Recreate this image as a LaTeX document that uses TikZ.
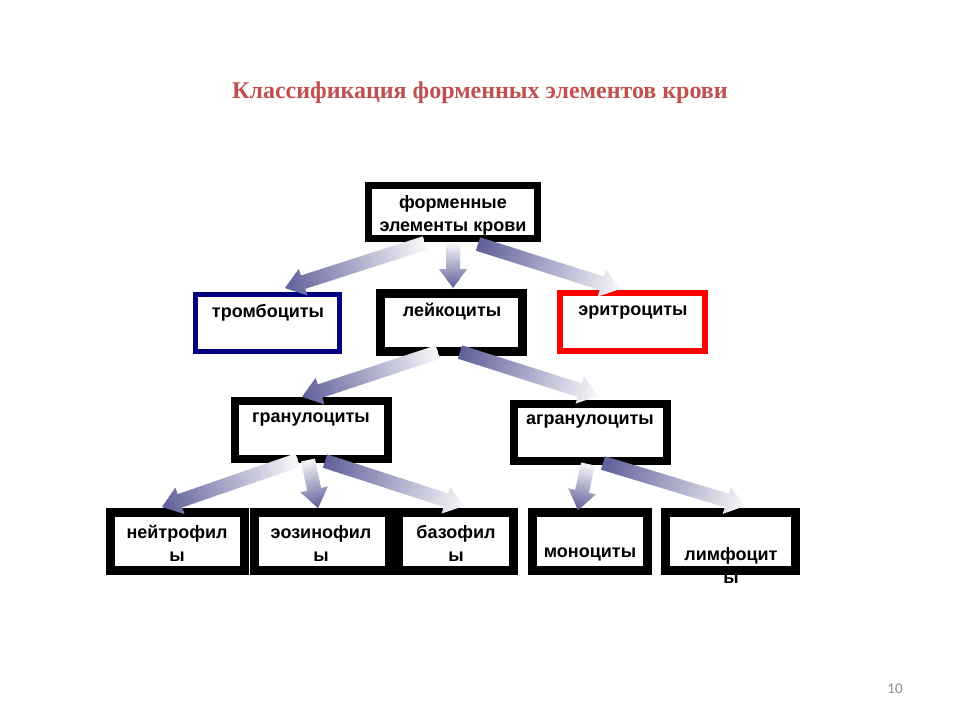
\documentclass[tikz,border=0pt]{standalone}
\usepackage{fontspec}
\setmainfont{Liberation Serif}
\setsansfont{Liberation Sans}
\newfontfamily\pnfont{Carlito}
\usetikzlibrary{calc}
\definecolor{titlered}{HTML}{C0504D}
\definecolor{adark}{HTML}{60619A}
\definecolor{alight}{HTML}{F6F6F9}
\definecolor{navyb}{HTML}{000080}
\definecolor{redb}{HTML}{FF0000}
\definecolor{pngray}{HTML}{8C8C8C}

\newcommand\Bx[7]{%
 \node[draw=#7, line width=#6pt, inner sep=0pt,
   minimum width={(#4-#2-#6)*1pt}, minimum height={(#5-#3-#6)*1pt}]
   (#1) at ({(#2+#4)/2},{(#3+#5)/2}) {};}

\newcommand\Garrow[4]{%
 \path let \p1=($(#2)-(#1)$) in
   \pgfextra{\pgfmathsetmacro\glen{veclen(\x1,\y1)}\pgfmathsetmacro\gang{atan2(\y1,\x1)}%
   \xdef\Glen{\glen}\xdef\Gang{\gang}};
 \begin{scope}[shift={(#1)}, rotate=\Gang]
  \clip (0,7) -- ({\Glen-19},7) -- ({\Glen-19},14) -- (\Glen,0)
   -- ({\Glen-19},-14) -- ({\Glen-19},-7) -- (0,-7) -- cycle;
  \foreach \i in {0,...,39}{%
    \pgfmathtruncatemacro\pc{100*\i/39}%
    \fill[#4!\pc!#3] ({\Glen*\i/40},-16) rectangle ({\Glen*(\i+1)/40+0.6},16);}
 \end{scope}}

\tikzset{
 txt/.style={font=\fontsize{18}{23}\selectfont\sffamily\bfseries, align=center, inner sep=0pt},
}

\begin{document}
\begin{tikzpicture}[x=1pt,y=-1pt]
\useasboundingbox[fill=white] (0,0) rectangle (960,720);

\node[font=\fontsize{24}{28}\selectfont\bfseries, text=titlered, inner sep=0pt] (title) at (480,93) {Классификация форменных элементов крови};
\node[font=\fontsize{15}{18}\selectfont\pnfont, text=pngray, inner sep=0pt] (pn) at (895,689) {10};

% texts
\node[txt] (t0) at (453,215) {форменные\\элементы крови};
\node[txt] (t1) at (268,313) {тромбоциты};
\node[txt] (t2) at (452,312) {лейкоциты};
\node[txt] (t3) at (633,313) {эритроциты};
\node[txt] (t4) at (311,420) {гранулоциты};
\node[txt] (t5) at (590,422) {агранулоциты};
\node[txt] (t6) at (177,543) {нейтрофил\\ы};
\node[txt] (t7) at (321,543) {эозинофил\\ы};
\node[txt] (t8) at (456,543) {базофил\\ы};
\node[txt] (t9) at (590,554) {моноциты};
\node[txt] (t10) at (731,565) {лимфоцит\\ы};

% boxes
\Bx{b0}{365}{182}{541}{242}{7}{black}
\Bx{b1}{193}{292}{342}{354}{5}{navyb}
\Bx{b2}{376}{289}{527}{356}{9}{black}
\Bx{b3}{557}{290}{708}{354}{6}{redb}
\Bx{b4}{231}{397}{392}{463}{8}{black}
\Bx{b5}{510}{400}{671}{465}{8}{black}
\Bx{b6}{106}{508}{249}{575}{9}{black}
\Bx{b7}{250}{508}{394}{575}{9}{black}
\Bx{b8}{394}{508}{518}{575}{9}{black}
\Bx{b9}{528}{508}{652}{575}{9}{black}
\Bx{b10}{661}{508}{800}{575}{9}{black}

% arrow ends
\coordinate (a1t) at (425,243); \coordinate (a1h) at (285,288);
\coordinate (a2t) at (453,243); \coordinate (a2h) at (453,288);
\coordinate (a3t) at (478,244); \coordinate (a3h) at (620,289);
\coordinate (a4t) at (438,352); \coordinate (a4h) at (302,397);
\coordinate (a5t) at (460,352); \coordinate (a5h) at (598,396);
\coordinate (a6t) at (298,460); \coordinate (a6h) at (162,507);
\coordinate (a7t) at (308,460); \coordinate (a7h) at (318,508);
\coordinate (a8t) at (325,461); \coordinate (a8h) at (464,506);
\coordinate (a9t) at (588,464); \coordinate (a9h) at (578,510);
\coordinate (a10t) at (603,463); \coordinate (a10h) at (745,506);

\Garrow{a1t}{a1h}{alight}{adark}
\Garrow{a2t}{a2h}{alight}{adark}
\Garrow{a3t}{a3h}{adark}{alight}
\Garrow{a4t}{a4h}{alight}{adark}
\Garrow{a5t}{a5h}{adark}{alight}
\Garrow{a6t}{a6h}{alight}{adark}
\Garrow{a7t}{a7h}{alight}{adark}
\Garrow{a8t}{a8h}{adark}{alight}
\Garrow{a9t}{a9h}{alight}{adark}
\Garrow{a10t}{a10h}{adark}{alight}
\end{tikzpicture}
\end{document}
